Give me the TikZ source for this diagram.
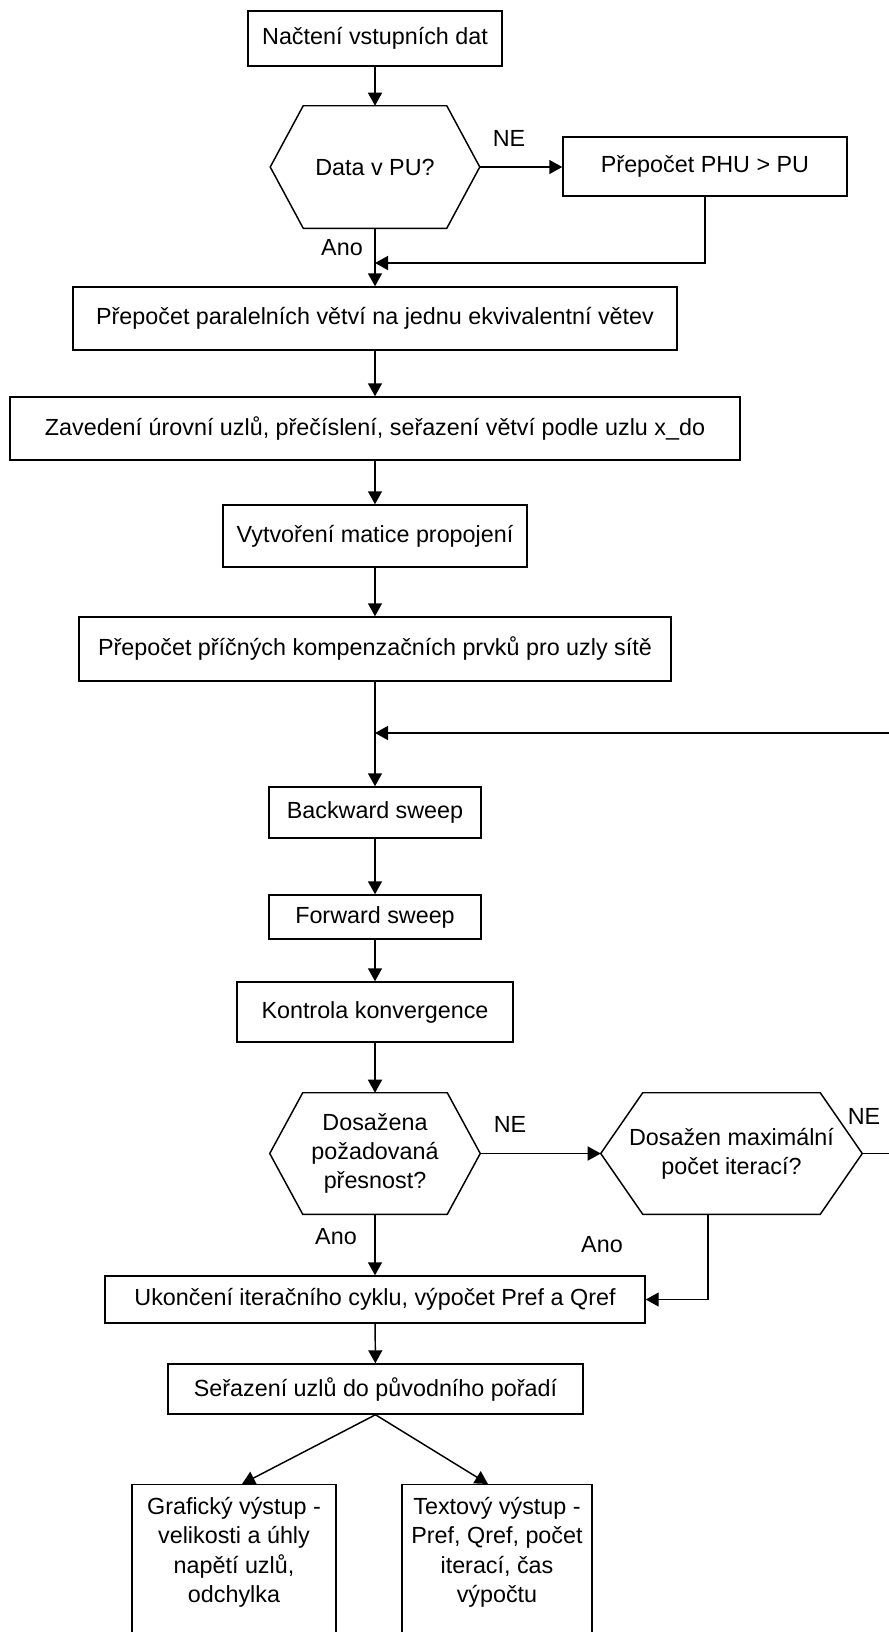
\documentclass[tikz,border=0pt]{standalone}
\usepackage{fontspec}
\setmainfont{Liberation Sans}
\usetikzlibrary{arrows.meta}

\tikzset{
  box/.style={draw, line width=1.1pt, inner sep=0pt, align=center},
  answer/.style={inner sep=0pt},
  flow/.style={line width=1.1pt, -{Triangle[length=9.75pt,width=10.5pt]}}
}
\newcommand{\hexa}[2]{\draw[line width=1.1pt] ([xshift=#2]#1.north west) -- ([xshift=-#2]#1.north east) -- (#1.east) -- ([xshift=-#2]#1.south east) -- ([xshift=#2]#1.south west) -- (#1.west) -- cycle;}

\begin{document}
\begin{tikzpicture}[x=0.75pt,y=0.75pt,yscale=-1,xscale=1,every node/.style={font=\fontsize{17.5pt}{22pt}\selectfont}]
%set diagram frame, 889 wide and 1632 high
\useasboundingbox (0,0) rectangle (889,1632);
\clip (0,0) rectangle (889,1632);

%Shape: Rectangle
\node[box, minimum width=190.5pt, minimum height=41.25pt] (load) at (375,38.5) {Načtení vstupních dat};
%Shape: Hexagon
\node[align=center, inner sep=0pt, minimum width=156.75pt, minimum height=91.5pt] (datapu) at (375,167) {Data v PU?};
\hexa{datapu}{24.75pt}
%Shape: Rectangle
\node[box, minimum width=213pt, minimum height=44.25pt] (phu) at (705,166.5) {Přepočet PHU > PU};
%Shape: Rectangle
\node[box, minimum width=453pt, minimum height=47.25pt] (parallel) at (375,318.5) {Přepočet paralelních větví na jednu ekvivalentní větev};
%Shape: Rectangle
\node[box, minimum width=547.5pt, minimum height=47.25pt] (levels) at (375,428.5) {Zavedení úrovní uzlů, přečíslení, seřazení větví podle uzlu x\_do};
%Shape: Rectangle
\node[box, minimum width=228pt, minimum height=46.5pt] (incid) at (375,536) {Vytvoření matice propojení};
%Shape: Rectangle
\node[box, minimum width=444pt, minimum height=48pt] (shunt) at (375,649) {Přepočet příčných kompenzačních prvků pro uzly sítě};
%Shape: Rectangle
\node[box, minimum width=159pt, minimum height=38.25pt] (backward) at (375,812.5) {Backward sweep};
%Shape: Rectangle
\node[box, minimum width=159pt, minimum height=33pt] (forward) at (375,917) {Forward sweep};
%Shape: Rectangle
\node[box, minimum width=207pt, minimum height=45pt] (conv) at (375,1012) {Kontrola konvergence};
%Shape: Hexagon
\node[align=center, inner sep=0pt, minimum width=157.5pt, minimum height=90.75pt] (accuracy) at (375,1153.5) {Dosažena\\požadovaná\\přesnost?};
\hexa{accuracy}{24.75pt}
%Shape: Hexagon
\node[align=center, inner sep=0pt, minimum width=195.75pt, minimum height=90.75pt] (maxiter) at (731.5,1153.5) {Dosažen maximální\\počet iterací?};
\hexa{maxiter}{31.5pt}
%Shape: Rectangle
\node[box, minimum width=405pt, minimum height=35.25pt] (finish) at (375,1299.5) {Ukončení iteračního cyklu, výpočet Pref a Qref};
%Shape: Rectangle
\node[box, minimum width=311.25pt, minimum height=37.5pt] (sortback) at (375.5,1389) {Seřazení uzlů do původního pořadí};
%Shape: Rectangle
\node[box, anchor=north, inner ysep=9.3pt, minimum width=153pt, text depth=110pt] (outgraph) at (234,1484) {Grafický výstup -\\velikosti a úhly\\napětí uzlů,\\odchylka};
%Shape: Rectangle
\node[box, anchor=north, inner ysep=9.3pt, minimum width=142.5pt, text depth=110pt] (outtext) at (497,1484) {Textový výstup -\\Pref, Qref, počet\\iterací, čas\\výpočtu};

% Text Node
\node[answer] (ne1) at (509,138) {NE};
% Text Node
\node[answer] (ano1) at (342,248) {Ano};
% Text Node
\node[answer] (ne2) at (510,1124) {NE};
% Text Node
\node[answer] (ne3) at (864,1116) {NE};
% Text Node
\node[answer] (ano2) at (336,1237) {Ano};
% Text Node
\node[answer] (ano3) at (602,1245) {Ano};

\coordinate (join1) at (375,263);
\coordinate (join2) at (375,733);
\coordinate (edge) at (920,0);

%Straight Lines
\draw[flow] (load) -- (datapu);
\draw[flow] (datapu) -- (phu.west |- datapu.east);
\draw[flow] (phu.south) |- (join1);
\draw[flow] (datapu) -- (parallel);
\draw[flow] (parallel) -- (levels);
\draw[flow] (levels) -- (incid);
\draw[flow] (incid) -- (shunt);
\draw[flow] (shunt) -- (backward);
\draw[flow] (maxiter.east) -- (maxiter.east -| edge) |- (join2);
\draw[flow] (backward) -- (forward);
\draw[flow] (forward) -- (conv);
\draw[flow] (conv) -- (accuracy);
\draw[flow] (accuracy) -- (maxiter);
\draw[flow] (accuracy) -- (finish);
\draw[flow] ([xshift=-17.6pt]maxiter.south) |- (finish.east);
\draw[flow] (finish) -- (sortback);
\draw[flow] (sortback.south) -- ([xshift=6pt]outgraph.north);
\draw[flow] (sortback.south) -- ([xshift=-6.75pt]outtext.north);

\end{tikzpicture}
\end{document}
